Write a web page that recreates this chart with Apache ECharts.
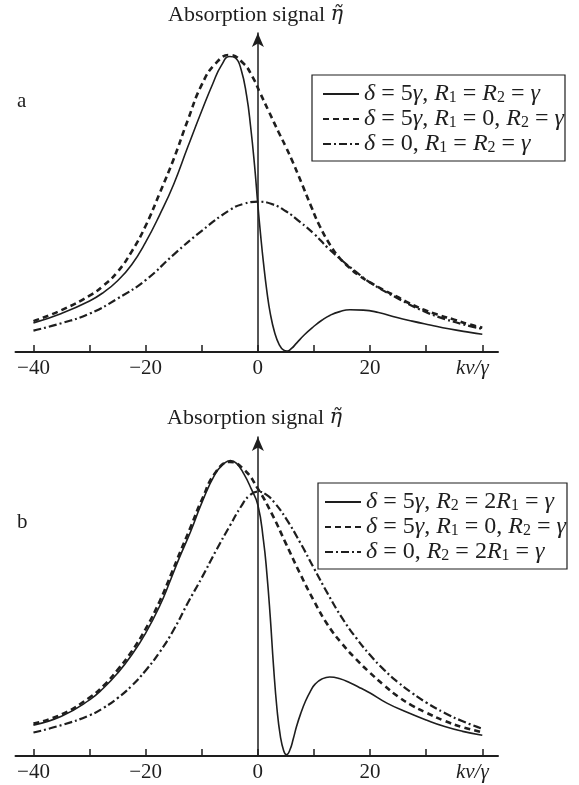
<!DOCTYPE html>
<html>
<head>
<meta charset="utf-8">
<script src="https://cdn.jsdelivr.net/npm/echarts@6/dist/echarts.min.js"></script>
<style>
  html, body { margin: 0; padding: 0; background: #fff; }
  #chart { width: 579px; height: 785px; }
</style>
</head>
<body>
<div id="chart"></div>
<script>
// Absorption signal (relative units) versus kv/γ, two parameter sets.
const xTicks = [-40, -30, -20, -10, 0, 10, 20, 30, 40];
const xLabels = [-40, -20, 0, 20, 40];

const nameA1 = 'δ = 5γ, R1 = R2 = γ';
const nameA2 = 'δ = 5γ, R1 = 0, R2 = γ';
const nameA3 = 'δ = 0, R1 = R2 = γ';
const nameB1 = 'δ = 5γ, R2 = 2R1 = γ';
const nameB2 = 'δ = 5γ, R1 = 0, R2 = γ';
const nameB3 = 'δ = 0, R2 = 2R1 = γ';

// panel a
const aSolid = [
  [-40, .098], [-35, .130], [-30, .172], [-27.5, .201],
  [-25, .240], [-22.5, .294], [-20, .370], [-17.5, .462], [-15, .565], [-12.5, .690],
  [-10, .812], [-8, .905], [-6.5, .965], [-5, .995], [-4, .990], [-3, .952],
  [-2, .862], [-1.3, .760], [-0.6, .630], [0, .495], [0.5, .392], [1, .300],
  [1.6, .205], [2.2, .131], [3, .065], [3.8, .025], [4.6, .006], [5.2, .003],
  [6, .012], [6.9, .030], [8.3, .058], [9.9, .085], [11.4, .107], [12.9, .124],
  [14.6, .136], [16.4, .142], [18.8, .141], [21.5, .133], [24.8, .116], [27.5, .104],
  [30.7, .091], [34, .078], [37.8, .066], [40, .060]
];
const aDashed = [
  [-40, .104], [-35, .141], [-30, .190], [-27.5, .224],
  [-25, .270], [-22.5, .338], [-20, .425], [-17.5, .535], [-15, .650], [-12.5, .780],
  [-10, .900], [-7.5, .972], [-5, 1.0], [-2.6, .972], [-1, .928],
  [0.4, .872], [2, .808], [3.7, .740], [5, .690], [6.3, .636], [7.7, .573],
  [9.5, .490], [11, .425], [12.9, .360], [14.5, .318], [16.2, .286], [18, .258],
  [20, .234], [22.5, .208], [24.8, .186], [27, .164], [29.5, .143], [32, .126],
  [35, .109], [37.5, .094], [40, .082]
];
const aDashDot = [
  [-40, .072], [-35, .097], [-30, .129], [-25, .180], [-20, .242], [-15, .328],
  [-10, .408], [-5, .478], [-2.5, .499], [0, .506], [2.5, .498], [5, .474],
  [7.5, .438], [10, .398], [12.5, .350], [15, .308], [17.5, .270], [20, .234],
  [24.8, .182], [29.5, .138], [33.5, .110], [37.8, .087], [40, .078]
];

// panel b
const bSolid = [
  [-40, .104], [-35, .134], [-30, .189], [-27.5, .229],
  [-25, .279], [-22.5, .340], [-20, .414], [-17.5, .505], [-15.5, .596], [-14, .667],
  [-12, .755], [-10, .852], [-7.6, .950], [-6, .985], [-4.9, .995], [-3.8, .985],
  [-2.5, .950], [-1.2, .900], [0, .845], [1, .725], [1.6, .615], [2.2, .470],
  [2.8, .300], [3.4, .160], [4, .068], [4.6, .018], [5.1, .004], [5.7, .020],
  [6.3, .057], [6.9, .100], [7.6, .141], [8.5, .185], [9.4, .219], [10.2, .242],
  [11.4, .259], [12.8, .266], [14.5, .261], [16.5, .246], [18.5, .227], [20, .212],
  [23, .178], [26.6, .147], [30, .121], [33.3, .099], [36.5, .083], [40, .070]
];
const bDashed = [
  [-40, .109], [-35, .140], [-30, .197], [-27.5, .237],
  [-25, .290], [-22.5, .352], [-20, .428], [-17.5, .521], [-15.5, .610], [-14, .680],
  [-12, .770], [-10, .862], [-7.5, .956], [-5, .990], [-2.5, .965], [0, .900],
  [2.5, .815], [5, .715], [7.5, .615], [10, .522], [12.5, .440], [15, .378],
  [17.5, .326], [20, .280], [22.5, .238], [25, .200], [27.5, .170], [30, .146],
  [33.3, .118], [36.5, .097], [40, .080]
];
const bDashDot = [
  [-40, .079], [-35, .104], [-30, .137], [-27.5, .162], [-25, .195], [-22.5, .236],
  [-20, .288], [-17.5, .350], [-15, .425], [-12.5, .515], [-10, .600], [-7.5, .690],
  [-5, .775], [-3, .840], [-1.5, .877], [0, .890], [1.5, .880], [3, .852],
  [5, .800], [7.5, .720], [10, .632], [12.5, .545], [15, .465], [17.5, .398],
  [20, .340], [22.5, .290], [25, .248], [27.5, .212], [30, .180], [33.3, .145],
  [36.5, .117], [40, .092]
];

const ink = '#1e1e1e';
const serif = '"Liberation Serif", "Times New Roman", serif';

function richSet(size, subSize, lh) {
  return {
    n: { fontFamily: serif, fontSize: size, fontWeight: 'normal', color: ink, lineHeight: lh },
    i: { fontFamily: serif, fontSize: size, fontWeight: 'normal', fontStyle: 'italic', color: ink, lineHeight: lh },
    e: { fontFamily: '"DejaVu Serif", serif', fontSize: size - 1, fontWeight: 'normal', fontStyle: 'italic', color: ink, lineHeight: lh },
    s: { fontFamily: serif, fontSize: subSize, fontWeight: 'normal', color: ink, lineHeight: 8, verticalAlign: 'bottom' }
  };
}
const legendRich = richSet(24, 16, 24);
const titleRich = richSet(22, 14, 24);

const legendText = {};
legendText[nameA1] = '{i|δ}{n| = 5}{i|γ}{n|, }{i|R}{s|1}{n| = }{i|R}{s|2}{n| = }{i|γ}';
legendText[nameA2] = '{i|δ}{n| = 5}{i|γ}{n|, }{i|R}{s|1}{n| = 0, }{i|R}{s|2}{n| = }{i|γ}';
legendText[nameA3] = '{i|δ}{n| = 0, }{i|R}{s|1}{n| = }{i|R}{s|2}{n| = }{i|γ}';
legendText[nameB1] = '{i|δ}{n| = 5}{i|γ}{n|, }{i|R}{s|2}{n| = 2}{i|R}{s|1}{n| = }{i|γ}';
legendText[nameB3] = '{i|δ}{n| = 0, }{i|R}{s|2}{n| = 2}{i|R}{s|1}{n| = }{i|γ}';

const solidStyle = { color: ink, width: 1.6, type: 'solid' };
const dashedStyle = { color: ink, width: 2.6, type: [6, 4] };
const dashDotStyle = { color: ink, width: 2.2, type: [8, 3, 2, 3] };

function xAxisFor(gridIndex) {
  return {
    gridIndex, type: 'value', min: -43.2, max: 42.8,
    axisLine: { onZero: false, lineStyle: { color: ink, width: 2 } },
    axisTick: { inside: true, length: 7, customValues: xTicks, lineStyle: { color: ink, width: 1.5 } },
    axisLabel: {
      customValues: xLabels, margin: 6, color: ink, fontFamily: serif, fontSize: 21,
      formatter: v => v === 40 ? '{k|kv/γ}' : (v < 0 ? '−' + Math.abs(v) : String(v)),
      rich: { k: { fontFamily: serif, fontSize: 21, fontStyle: 'italic', color: ink, padding: [0, 20, 0, 0] } }
    },
    splitLine: { show: false }
  };
}
function yAxisFor(gridIndex) {
  return {
    gridIndex, type: 'value', min: 0, max: 1.074,
    axisLine: { onZero: true, symbol: ['none', 'arrow'], symbolSize: [9, 14], lineStyle: { color: ink, width: 1.5 } },
    axisTick: { show: false }, axisLabel: { show: false }, splitLine: { show: false }
  };
}
function line(name, data, style, idx) {
  return {
    name, type: 'line', data, xAxisIndex: idx, yAxisIndex: idx,
    showSymbol: false, symbol: 'none', smooth: 0.5,
    lineStyle: style, itemStyle: { color: ink }, silent: true
  };
}
function legendFor(names, left, top, padLeft) {
  return {
    data: names, orient: 'vertical', left, top,
    padding: [7, 1, 5, padLeft], itemGap: 1, itemWidth: 36, itemHeight: 14, itemTextGap: 9,
    borderColor: ink, borderWidth: 1.2, selectedMode: false,
    itemStyle: { opacity: 0, borderWidth: 0 },
    formatter: n => legendText[n] || legendText[nameA2],
    textStyle: { rich: legendRich }
  };
}

const chart = echarts.init(document.getElementById('chart'), null, { renderer: 'canvas' });
chart.setOption({
  animation: false,
  backgroundColor: '#fff',
  title: [
    { text: '{n|Absorption signal }{e|η̃}', left: 168, top: 3, padding: 0, textStyle: { rich: titleRich } },
    { text: '{n|Absorption signal }{e|η̃}', left: 167, top: 406, padding: 0, textStyle: { rich: titleRich } }
  ],
  grid: [
    { left: 15.5, width: 482.5, top: 33, height: 319 },
    { left: 15.5, width: 482.5, top: 437, height: 319 }
  ],
  xAxis: [xAxisFor(0), xAxisFor(1)],
  yAxis: [yAxisFor(0), yAxisFor(1)],
  legend: [
    legendFor([nameA1, nameA2, nameA3], 312, 75, 10),
    legendFor([nameB1, nameB2, nameB3], 318, 483, 6)
  ],
  graphic: [
    { type: 'text', left: 17, top: 91, style: { text: 'a', font: '21px ' + serif, fill: ink } },
    { type: 'text', left: 17, top: 512, style: { text: 'b', font: '21px ' + serif, fill: ink } }
  ],
  series: [
    line(nameA1, aSolid, solidStyle, 0),
    line(nameA2, aDashed, dashedStyle, 0),
    line(nameA3, aDashDot, dashDotStyle, 0),
    line(nameB1, bSolid, solidStyle, 1),
    line(nameB2, bDashed, dashedStyle, 1),
    line(nameB3, bDashDot, dashDotStyle, 1)
  ]
});
</script>
</body>
</html>
